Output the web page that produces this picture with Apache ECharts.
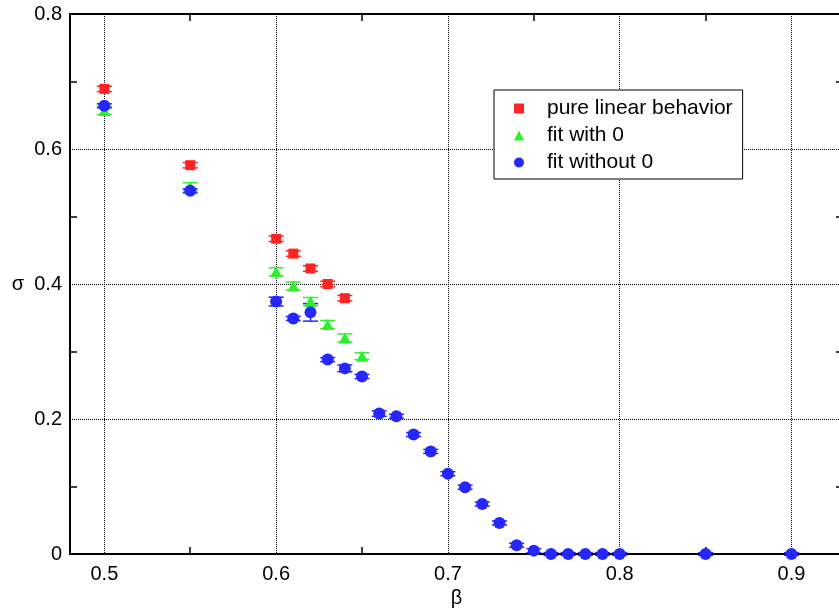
<!DOCTYPE html>
<html>
<head>
<meta charset="utf-8">
<script src="https://cdn.jsdelivr.net/npm/echarts@6/dist/echarts.min.js"></script>
<style>
    html, body { margin: 0; padding: 0; background: #fff; }
    #chart { width: 839px; height: 612px; }
</style>
</head>
<body>
<div id="chart"></div>
<script>
    // beta values and sigma estimates with their errors
    var betaLinear = [0.5, 0.55, 0.6, 0.61, 0.62, 0.63, 0.64];
    var sigmaLinear = [0.689, 0.576, 0.467, 0.445, 0.423, 0.400, 0.379];
    var errLinear = [0.004, 0.004, 0.004, 0.004, 0.004, 0.004, 0.004];

    var betaWith0 = [0.5, 0.55, 0.6, 0.61, 0.62, 0.63, 0.64, 0.65];
    var sigmaWith0 = [0.657, 0.544, 0.418, 0.397, 0.374, 0.340, 0.320, 0.293];
    var errWith0 = [0.006, 0.006, 0.006, 0.006, 0.006, 0.006, 0.006, 0.005];

    var betaWithout0 = [0.5, 0.55, 0.6, 0.61, 0.62, 0.63, 0.64, 0.65, 0.66, 0.67, 0.68, 0.69, 0.70,
        0.71, 0.72, 0.73, 0.74, 0.75, 0.76, 0.77, 0.78, 0.79, 0.80, 0.85, 0.9];
    var sigmaWithout0 = [0.664, 0.538, 0.374, 0.349, 0.358, 0.288, 0.275, 0.263, 0.208, 0.204, 0.177,
        0.152, 0.119, 0.099, 0.074, 0.046, 0.013, 0.005, 0, 0, 0, 0, 0, 0, 0];
    var errWithout0 = [0.003, 0.003, 0.0065, 0.003, 0.013, 0.003, 0.005, 0.003, 0.004, 0.003, 0.003,
        0.003, 0.003, 0.003, 0.003, 0.003, 0.003, 0.003, 0.002, 0.002, 0.002, 0.002, 0.002, 0.002, 0.002];

    var xLabels = [0.5, 0.6, 0.7, 0.8, 0.9];
    var xMinor = [0.55, 0.65, 0.75, 0.85];
    var yLabels = [0, 0.2, 0.4, 0.6, 0.8];
    var yMinor = [0.1, 0.3, 0.5, 0.7];

    const FONT = 'Liberation Sans';
    const X_RANGE = {min: 0.48, max: 0.93};
    const Y_RANGE = {min: 0, max: 0.8};

    const zip = function (xs, ys, es) {
        return xs.map((x, i) => es ? [x, ys[i], es[i]] : [x, ys[i]]);
    };

    const errorBars = function (params, api) {
        const x = api.value(0), y = api.value(1), e = api.value(2);
        const top = api.coord([x, y + e]);
        const bot = api.coord([x, y - e]);
        const half = 7.5;
        const style = {stroke: api.visual('color'), lineWidth: 1.5};
        return {
            type: 'group',
            children: [
                {type: 'line', shape: {x1: top[0], y1: top[1], x2: bot[0], y2: bot[1]}, style: style},
                {type: 'line', shape: {x1: top[0] - half, y1: top[1], x2: top[0] + half, y2: top[1]}, style: style},
                {type: 'line', shape: {x1: bot[0] - half, y1: bot[1], x2: bot[0] + half, y2: bot[1]}, style: style}
            ]
        };
    };

    const colors = {red: '#ff2424', green: '#2cf02c', blue: '#2626ff'};

    const errSeries = function (data, color) {
        return {
            type: 'custom', renderItem: errorBars, data: data, clip: false,
            itemStyle: {color: color}, silent: true
        };
    };

    // frame axis: solid line + minor ticks pointing inward
    const frameAxis = function (position, range, minor, extra) {
        return Object.assign({
            type: 'value', position: position,
            min: range.min, max: range.max,
            axisLine: {show: true, onZero: false, lineStyle: {color: '#000', width: 2}},
            axisTick: {show: true, inside: true, length: 7, customValues: minor, lineStyle: {color: '#000', width: 1.5}},
            axisLabel: {show: false},
            splitLine: {show: false}
        }, extra || {});
    };

    // grid axis: only dotted lines at major ticks
    const gridAxis = function (position, range, majors) {
        return {
            type: 'value', position: position,
            min: range.min, max: range.max,
            axisLine: {show: false},
            axisTick: {show: false, customValues: majors},
            axisLabel: {show: false},
            splitLine: {show: true, lineStyle: {color: '#000', type: 'dotted', width: 1}}
        };
    };

    var option = {
        animation: false,
        // the right frame edge sits just outside the picture
        grid: {left: 70, width: 773, top: 14, bottom: 58, outerBoundsMode: 'none', containLabel: false},
        legend: {
            orient: 'vertical',
            left: 494, top: 90,
            padding: [8, 10, 6, 20],
            itemGap: 6,
            itemWidth: 10,
            itemHeight: 10,
            backgroundColor: '#fff',
            borderColor: '#000',
            borderWidth: 1,
            borderRadius: 0,
            textStyle: {fontFamily: FONT, fontSize: 21, color: '#000', padding: [0, 0, 0, 18]},
            data: ['pure linear behavior', 'fit with 0', 'fit without 0']
        },
        xAxis: [
            frameAxis('bottom', X_RANGE, xMinor, {
                name: 'β', nameLocation: 'middle', nameGap: 32,
                nameTextStyle: {fontFamily: FONT, fontSize: 20, color: '#000'},
                axisLabel: {show: true, customValues: xLabels, margin: 10, fontFamily: FONT, fontSize: 20, color: '#000'}
            }),
            frameAxis('top', X_RANGE, xMinor),
            gridAxis('bottom', X_RANGE, xLabels)
        ],
        yAxis: [
            frameAxis('left', Y_RANGE, yMinor, {
                name: 'σ', nameLocation: 'middle', nameGap: 46, nameRotate: 0,
                nameTextStyle: {fontFamily: FONT, fontSize: 20, color: '#000'},
                axisLabel: {show: true, customValues: yLabels, margin: 8, fontFamily: FONT, fontSize: 20, color: '#000'}
            }),
            frameAxis('right', Y_RANGE, yMinor),
            gridAxis('left', Y_RANGE, yLabels)
        ],
        series: [
            errSeries(zip(betaLinear, sigmaLinear, errLinear), colors.red),
            {
                name: 'pure linear behavior', type: 'scatter',
                symbol: 'rect', symbolSize: 10,
                itemStyle: {color: colors.red, opacity: 1},
                data: zip(betaLinear, sigmaLinear)
            },
            errSeries(zip(betaWith0, sigmaWith0, errWith0), colors.green),
            {
                name: 'fit with 0', type: 'scatter',
                symbol: 'triangle', symbolSize: [12, 11],
                itemStyle: {color: colors.green, opacity: 1},
                data: zip(betaWith0, sigmaWith0)
            },
            errSeries(zip(betaWithout0, sigmaWithout0, errWithout0), colors.blue),
            {
                name: 'fit without 0', type: 'scatter',
                symbol: 'circle', symbolSize: 12,
                itemStyle: {color: colors.blue, opacity: 1},
                data: zip(betaWithout0, sigmaWithout0)
            }
        ]
    };

    var chart = echarts.init(document.getElementById('chart'));
    chart.setOption(option);
</script>
</body>
</html>
